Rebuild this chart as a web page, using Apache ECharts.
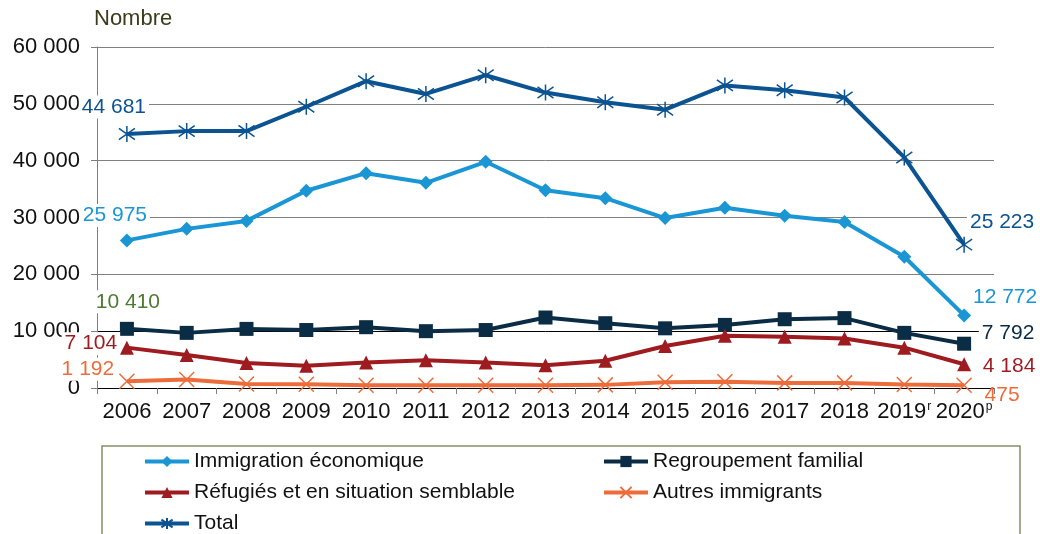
<!DOCTYPE html>
<html>
<head>
<meta charset="utf-8">
<script src="https://cdn.jsdelivr.net/npm/echarts@6/dist/echarts.min.js"></script>
<style>html,body{margin:0;padding:0;background:#fff}#c{width:1040px;height:534px}</style>
</head>
<body>
<div id="c"></div>
<script>
var years = ['2006','2007','2008','2009','2010','2011','2012','2013','2014','2015','2016','2017','2018','2019','2020'];
var yearSup = {'2019':'r','2020':'p'};
var eco = [25975, 28000, 29400, 34700, 37800, 36100, 39800, 34800, 33400, 29900, 31700, 30300, 29200, 23100, 12772];
var fam = [10410, 9700, 10400, 10200, 10700, 10000, 10200, 12400, 11400, 10500, 11100, 12100, 12300, 9700, 7792];
var ref = [7104, 5800, 4400, 3900, 4500, 4900, 4500, 4000, 4800, 7400, 9200, 9000, 8700, 7100, 4184];
var aut = [1192, 1500, 700, 650, 500, 500, 500, 500, 550, 1000, 1100, 900, 900, 600, 475];
var tot = [44681, 45198, 45208, 49489, 53982, 51737, 55036, 51983, 50275, 48964, 53246, 52388, 51118, 40565, 25223];
var yTicks = [0, 10000, 20000, 30000, 40000, 50000, 60000];
var names = ['Immigration économique','Regroupement familial','Réfugiés et en situation semblable','Autres immigrants','Total'];

function fmt(v){ return String(v).replace(/\B(?=(\d{3})+(?!\d))/g, ' '); }

var FONT = 'Liberation Sans, Arial, sans-serif';
var XPATH = 'path://M0 0L20 20M20 0L0 20';
var STAR = 'path://M10 0L10 20M2 3L18 17M2 17L18 3';

function mk(values, cfg){
  var data = values.map(function(v, i){
    var it = {value: v};
    var lab = null;
    if (i === 0) lab = cfg.first;
    if (i === values.length - 1) lab = cfg.last;
    if (lab) {
      it.label = {
        show: true, position: 'inside', offset: lab.off, color: lab.color,
        fontSize: 21, fontFamily: FONT,
        backgroundColor: lab.noBg ? 'transparent' : '#fff', padding: [1, 3],
        align: 'center', verticalAlign: 'middle',
        formatter: function(p){ return fmt(p.value); }
      };
    }
    return it;
  });
  return {
    name: cfg.name, type: 'line', data: data,
    symbol: cfg.symbol, symbolSize: cfg.size,
    lineStyle: {color: cfg.color, width: 4},
    itemStyle: {color: cfg.color, borderColor: cfg.color, borderWidth: cfg.bw || 0},
    label: {show: false},
    emphasis: {disabled: true},
    z: cfg.z || 2,
    animation: false
  };
}

var series = [
  mk(eco, {name: names[0], color: '#1a96d4', symbol: 'diamond', size: 14,
    first: {off: [-12, -25], color: '#1a96d4'}, last: {off: [41, -18], color: '#1a96d4'}}),
  mk(fam, {name: names[1], color: '#0a2c44', symbol: 'rect', size: 14,
    first: {off: [1, -27], color: '#4e7a32'}, last: {off: [44, -11], color: '#0a2c44'}}),
  mk(ref, {name: names[2], color: '#9e1b1f', symbol: 'triangle', size: 14,
    first: {off: [-36, -4], color: '#9e1b1f'}, last: {off: [45, 2], color: '#9e1b1f'}}),
  mk(aut, {name: names[3], color: '#ec6d3b', symbol: XPATH, size: 15, bw: 1.5,
    first: {off: [-39, -12], color: '#ec6d3b'}, last: {off: [38, 10], color: '#ec6d3b', noBg: true}}),
  mk(tot, {name: names[4], color: '#0b5391', symbol: STAR, size: 16, bw: 1.5,
    first: {off: [-13, -27], color: '#0b5391'}, last: {off: [38, -22], color: '#0b5391'}})
];

var legendCommon = {
  orient: 'vertical', top: 451, padding: 0,
  itemWidth: 44, itemHeight: 14, itemGap: 10,
  lineStyle: {width: 4},
  textStyle: {fontSize: 21, color: '#111', fontFamily: FONT, lineHeight: 20}
};

var chart = echarts.init(document.getElementById('c'), null, {renderer: 'canvas'});
chart.setOption({
  animation: false,
  backgroundColor: '#fff',
  textStyle: {fontFamily: FONT},
  title: {text: 'Nombre', left: 94, top: 8, padding: 0,
    textStyle: {fontSize: 22, fontWeight: 'normal', color: '#3c3c1c', fontFamily: FONT}},
  grid: {left: 97, right: 46, top: 47, bottom: 146, containLabel: false},
  xAxis: {
    type: 'category', data: years, boundaryGap: true,
    axisLine: {lineStyle: {color: '#000', width: 1}},
    axisTick: {show: true, length: 6, interval: 0, lineStyle: {color: '#7f7f7f'}},
    axisLabel: {
      interval: 0, color: '#111', fontSize: 22, fontFamily: FONT, margin: 13,
      formatter: function(v){ return yearSup[v] ? '{a|' + v + '}{s|' + yearSup[v] + '}' : v; },
      rich: {a: {fontSize: 22, color: '#111', fontFamily: FONT},
             s: {fontSize: 12, color: '#111', fontFamily: FONT, verticalAlign: 'top', padding: [0, 0, 8, 1]}}
    },
    splitLine: {show: false}
  },
  yAxis: {
    type: 'value', min: yTicks[0], max: yTicks[yTicks.length - 1], interval: yTicks[1] - yTicks[0],
    axisLine: {show: true, lineStyle: {color: '#7f7f7f', width: 1}},
    axisTick: {show: true, length: 6, lineStyle: {color: '#7f7f7f'}},
    axisLabel: {color: '#111', fontSize: 22, fontFamily: FONT, margin: 17, formatter: function(v){ return fmt(v); }},
    splitLine: {show: true, lineStyle: {color: ['#000', '#000', '#808080', '#808080', '#808080', '#808080', '#808080'], width: 1}}
  },
  legend: [
    Object.assign({data: [names[0], names[2], names[4]], left: 143}, legendCommon),
    Object.assign({data: [names[1], names[3]], left: 602}, legendCommon)
  ],
  graphic: [{type: 'rect', shape: {x: 102, y: 446, width: 918, height: 110},
    style: {fill: 'none', stroke: '#8c8c6a', lineWidth: 1.5}, z: -1, silent: true}],
  series: series
});
</script>
</body>
</html>
